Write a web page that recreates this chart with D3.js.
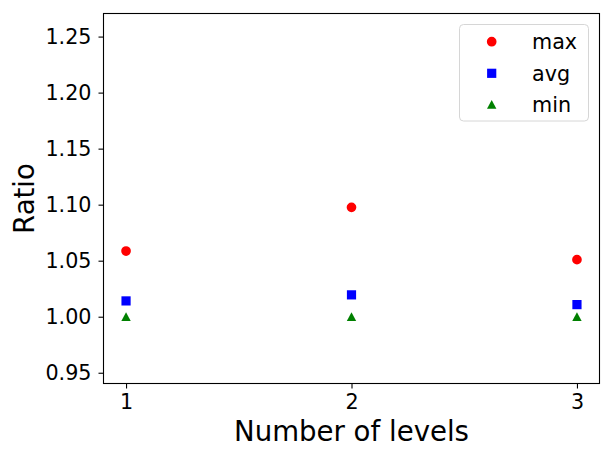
<!DOCTYPE html>
<html>
<head>
<meta charset="utf-8">
<script src="https://cdn.jsdelivr.net/npm/d3@7"></script>
<style>
body { margin: 0; background: #fff; }
text { font-family: "DejaVu Sans", sans-serif; fill: #000; }
</style>
</head>
<body>
<script>
var w = 612;
var h = 456;

// data
var levels = [1, 2, 3];
var maxVals = [1.0586, 1.0976, 1.0509];
var avgVals = [1.0141, 1.0195, 1.0108];
var minVals = [1.0, 1.0, 1.0];
var yTicks = [0.95, 1.00, 1.05, 1.10, 1.15, 1.20, 1.25];
var seriesNames = ["max", "avg", "min"];
var seriesColors = ["#ff0000", "#0000ff", "#008000"];
var seriesShapes = ["circle", "square", "triangle"];
var seriesVals = [maxVals, avgVals, minVals];

// plot box (window.top is reserved, so use other names)
var plotLeft = 103.5, plotRight = 599.5, plotTop = 13.5, plotBottom = 383.5;

var x = d3.scaleLinear().domain([0.9, 3.1]).range([plotLeft, plotRight]);
var y = d3.scaleLinear().domain([0.9404, 1.2706]).range([plotBottom, plotTop]);

var svg = d3.select("body")
    .append("svg")
    .attr("width", w)
    .attr("height", h);

// marker path generator, sizes in px
function marker(shape) {
    if (shape == "circle") {
        return d3.symbol().type(d3.symbolCircle).size(Math.PI * 4.85 * 4.85)();
    } else if (shape == "square") {
        return d3.symbol().type(d3.symbolSquare).size(9.2 * 9.2)();
    } else {
        var hw = 4.7, hh = 4.4;
        return "M0," + (-hh) + "L" + (-hw) + "," + hh + "L" + hw + "," + hh + "Z";
    }
}

// axes
var yAxis = d3.axisLeft(y)
    .tickValues(yTicks)
    .tickFormat(d3.format(".2f"))
    .tickSize(5)
    .tickPadding(7);
var xAxis = d3.axisBottom(x)
    .tickValues(levels)
    .tickFormat(d3.format("d"))
    .tickSize(5)
    .tickPadding(6);

var gy = svg.append("g").attr("transform", "translate(" + plotLeft + ",0)").call(yAxis);
var gx = svg.append("g").attr("transform", "translate(0," + plotBottom + ")").call(xAxis);
[gx, gy].forEach(function(g) {
    g.select(".domain").remove();
    g.selectAll("line").attr("stroke", "#000").attr("stroke-width", 1.1);
    g.selectAll("text").style("font-size", "20.7px").attr("font-family", "DejaVu Sans");
});

// points
var pointsGroup = svg.append("g").attr("id", "points");
seriesVals.forEach(function(vals, s) {
    pointsGroup.selectAll(".s" + s)
        .data(levels)
        .enter()
        .append("path")
        .attr("class", "s" + s)
        .attr("d", marker(seriesShapes[s]))
        .attr("transform", function(d, i) {
            return "translate(" + x(d) + "," + y(vals[i]) + ")";
        })
        .attr("fill", seriesColors[s]);
});

// frame
svg.append("rect")
    .attr("x", plotLeft).attr("y", plotTop)
    .attr("width", plotRight - plotLeft).attr("height", plotBottom - plotTop)
    .attr("fill", "none")
    .attr("stroke", "#000")
    .attr("stroke-width", 1.1);

// axis labels
svg.append("text")
    .attr("x", (plotLeft + plotRight) / 2)
    .attr("y", 441)
    .attr("text-anchor", "middle")
    .style("font-size", "27.6px")
    .text("Number of levels");

svg.append("text")
    .attr("transform", "translate(34," + (plotTop + plotBottom) / 2 + ") rotate(-90)")
    .attr("text-anchor", "middle")
    .style("font-size", "27.6px")
    .text("Ratio");

// legend
var legend = svg.append("g").attr("id", "legend");
legend.append("rect")
    .attr("x", 459.5).attr("y", 24.5)
    .attr("width", 129).attr("height", 96.5)
    .attr("rx", 4).attr("ry", 4)
    .attr("fill", "#fff").attr("fill-opacity", 0.8)
    .attr("stroke", "#d6d6d6").attr("stroke-width", 1);

var rowY = [41.7, 73.3, 104.3];
seriesNames.forEach(function(name, s) {
    legend.append("path")
        .attr("d", marker(seriesShapes[s]))
        .attr("transform", "translate(491.7," + rowY[s] + ")")
        .attr("fill", seriesColors[s]);
    legend.append("text")
        .attr("x", 532)
        .attr("y", rowY[s])
        .attr("dy", "0.35em")
        .style("font-size", "20.7px")
        .text(name);
});
</script>
</body>
</html>
